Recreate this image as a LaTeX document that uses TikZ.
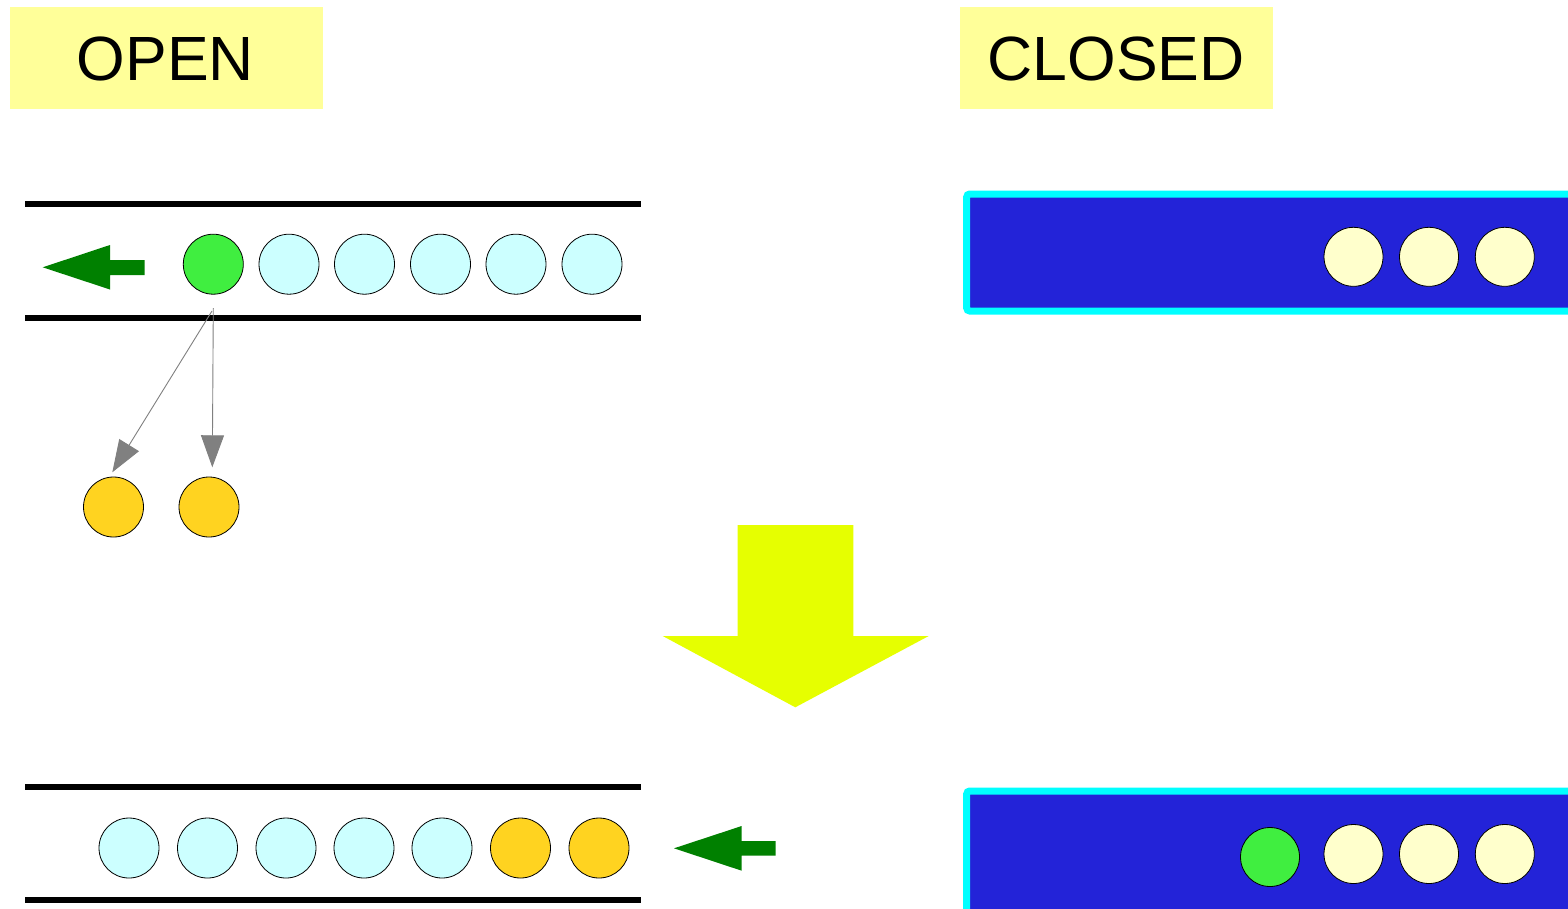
\documentclass[tikz,border=0pt]{standalone}
\usepackage{fontspec}
\setmainfont{Liberation Sans}
\usetikzlibrary{arrows.meta}
\definecolor{labelfill}{RGB}{255,255,153}
\definecolor{ballcyan}{RGB}{204,255,255}
\definecolor{ballgreen}{RGB}{64,238,64}
\definecolor{ballorange}{RGB}{255,211,32}
\definecolor{ballcream}{RGB}{255,255,204}
\definecolor{arrowgreen}{RGB}{0,128,0}
\definecolor{bigyellow}{RGB}{230,255,0}
\definecolor{boxblue}{RGB}{35,35,216}
\definecolor{boxcyan}{RGB}{0,255,255}
\tikzset{
  ball/.style={circle, draw=black, line width=0.8pt, minimum size=60pt, inner sep=0pt},
  cyanball/.style={ball, fill=ballcyan},
  greenball/.style={ball, fill=ballgreen},
  orangeball/.style={ball, fill=ballorange},
  creamball/.style={ball, fill=ballcream, minimum size=59pt},
  tubeline/.style={line width=6pt, black},
  labelbox/.style={fill=labelfill, minimum width=313pt, minimum height=102pt, inner sep=0pt},
  labeltext/.style={font=\fontsize{62.5}{70}\selectfont, inner sep=0pt, anchor=base},
  grayarrow/.style={draw=gray, line width=0.9pt, -{Triangle[length=32pt,width=23pt]}},
  chamber/.style={draw=boxcyan, fill=boxblue, line width=7pt, rounded corners=3pt},
}
\begin{document}
\begin{tikzpicture}[x=1pt,y=-1pt]
\useasboundingbox (0,0) rectangle (1568,908);
\clip (0,0) rectangle (1568,908);
\fill[white] (0,0) rectangle (1568,908);

% labels
\node[labelbox] (openbox) at (166.5,58) {};
\node[labeltext] (opentext) at (165.5,80.5) {OPEN};
\node[labelbox] (closedbox) at (1116.5,58) {};
\node[labeltext] (closedtext) at (1116,80.5) {CLOSED};

% top tube
\draw[tubeline] (25,204.3) -- (641,204.3);
\draw[tubeline] (25,317.7) -- (641,317.7);
\fill[arrowgreen] (42.7,267.3) -- (110,245) -- (110,260) -- (144.5,260) -- (144.5,275) -- (110,275) -- (110,289.5) -- cycle;
\node[greenball] (g1) at (213.3,264.2) {};
\node[cyanball] (c1) at (289,264.2) {};
\node[cyanball] (c2) at (364.5,264.2) {};
\node[cyanball] (c3) at (440.5,264.2) {};
\node[cyanball] (c4) at (516,264.2) {};
\node[cyanball] (c5) at (592,264.2) {};

% emitted balls
\node[orangeball] (o1) at (113.5,507) {};
\node[orangeball] (o2) at (209,507) {};
\coordinate (srcA) at (212,311);
\coordinate (srcB) at (213.3,308);
\coordinate (tipA) at (112.3,472.3);
\coordinate (tipB) at (212.3,467.3);
\draw[grayarrow] (srcA) -- (tipA);
\draw[grayarrow] (srcB) -- (tipB);

% big yellow arrow
\fill[bigyellow] (737.7,525) -- (853.3,525) -- (853.3,636) -- (928.7,636) -- (795.3,707.3) -- (662.7,636) -- (737.7,636) -- cycle;

% bottom tube
\draw[tubeline] (25,786.5) -- (641,786.5);
\draw[tubeline] (25,900) -- (641,900);
\node[cyanball] (d1) at (129,848) {};
\node[cyanball] (d2) at (207.5,848) {};
\node[cyanball] (d3) at (286,848) {};
\node[cyanball] (d4) at (364,848) {};
\node[cyanball] (d5) at (442,848) {};
\node[orangeball] (d6) at (520.5,848) {};
\node[orangeball] (d7) at (599,848) {};
\fill[arrowgreen] (674,848.3) -- (741.7,826) -- (741.7,841) -- (775.7,841) -- (775.7,855.7) -- (741.7,855.7) -- (741.7,870.7) -- cycle;

% closed chambers
\draw[chamber] (966.7,194) rectangle (1600,311);
\node[creamball] (y1) at (1353.5,256.8) {};
\node[creamball] (y2) at (1429,256.8) {};
\node[creamball] (y3) at (1504.8,256.8) {};

\draw[chamber] (966.7,791) rectangle (1600,930);
\node[greenball, minimum size=59pt] (z0) at (1270,857) {};
\node[creamball] (z1) at (1353.5,854) {};
\node[creamball] (z2) at (1429,854) {};
\node[creamball] (z3) at (1504.8,854) {};
\end{tikzpicture}
\end{document}
